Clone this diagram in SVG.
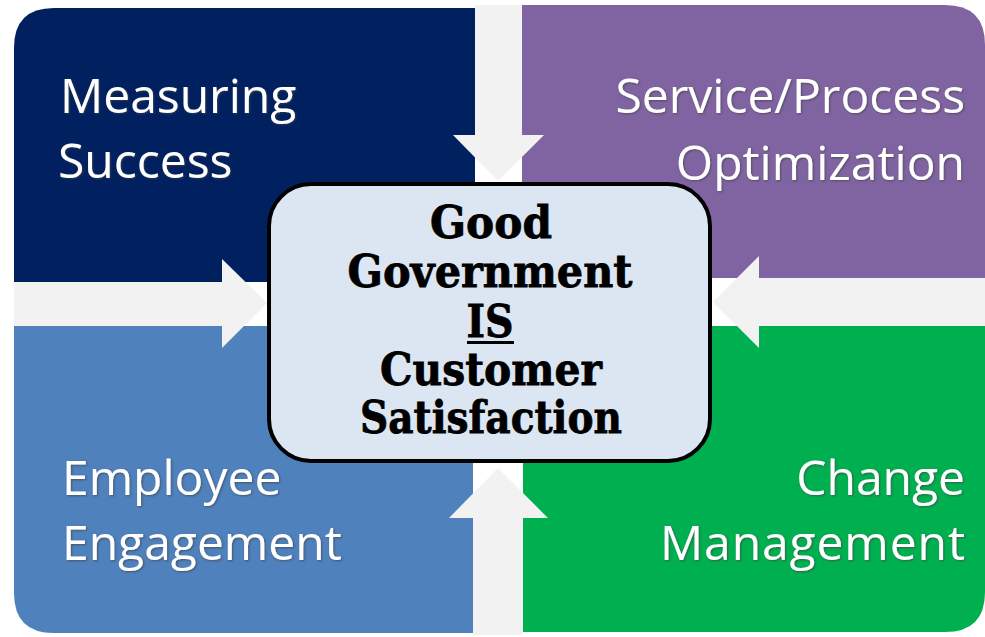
<svg xmlns="http://www.w3.org/2000/svg" width="985" height="637" viewBox="0 0 985 637">
<defs>
<style>
.q{font-family:"Open Sans","Noto Sans",sans-serif;font-size:48px;fill:#ffffff;filter:url(#sh)}
.c{font-family:"DejaVu Serif","Liberation Serif",serif;font-weight:bold;font-size:45px;fill:#000;stroke:#000;stroke-width:0.8;text-anchor:middle}
.ar{fill:#f2f2f2}
</style>
<filter id="sh" x="-10%" y="-20%" width="120%" height="140%">
<feDropShadow dx="1" dy="1" stdDeviation="1" flood-color="#404040" flood-opacity="0.7"/>
</filter>
</defs>
<rect width="985" height="637" fill="#ffffff"/>
<g id="measuring-success">
<path d="M14 48 Q14 8 54 8 H475 V282 H14 Z" fill="#002060"/>
<text class="q" x="60" y="113">Measuring</text>
<text class="q" x="58" y="178">Success</text>
</g>
<g id="service-process">
<path d="M522 5 H945 Q985 5 985 45 V278 H522 Z" fill="#8064a2"/>
<text class="q" x="965" y="113" text-anchor="end">Service/Process</text>
<text class="q" x="965" y="180" text-anchor="end">Optimization</text>
</g>
<g id="employee-engagement">
<path d="M14 326 H473 V633 H54 Q14 633 14 593 Z" fill="#4f81bd"/>
<text class="q" x="62" y="495">Employee</text>
<text class="q" x="62" y="560">Engagement</text>
</g>
<g id="change-management">
<path d="M523 326 H985 V592 Q985 632 945 632 H523 Z" fill="#00b050"/>
<text class="q" x="965" y="495" text-anchor="end">Change</text>
<text class="q" x="965" y="560" text-anchor="end" textLength="305">Management</text>
</g>
<g id="connectors">
<polygon class="ar" points="475,5 522,5 522,135 544,135 498,181 453,135 475,135"/>
<polygon class="ar" points="14,282 222,282 222,259 267,303 222,348 222,326 14,326"/>
<polygon class="ar" points="985,278 759,278 759,256 713,302 759,348 759,326 985,326"/>
<polygon class="ar" points="473,635 523,635 523,518 548,518 498,468 449,518 473,518"/>
</g>
<g id="center">
<rect x="269" y="184" width="441" height="277" rx="42" ry="42" fill="#dce6f2" stroke="#000" stroke-width="4"/>
<text class="c" x="491" y="238" textLength="122" lengthAdjust="spacingAndGlyphs">Good</text>
<text class="c" x="490" y="287" textLength="285" lengthAdjust="spacingAndGlyphs">Government</text>
<text class="c" x="490" y="337" textLength="47" lengthAdjust="spacingAndGlyphs">IS</text>
<rect x="467" y="341" width="47" height="3" fill="#000"/>
<text class="c" x="491" y="385" textLength="222" lengthAdjust="spacingAndGlyphs">Customer</text>
<text class="c" x="491" y="433" textLength="262" lengthAdjust="spacingAndGlyphs">Satisfaction</text>
</g>
</svg>
